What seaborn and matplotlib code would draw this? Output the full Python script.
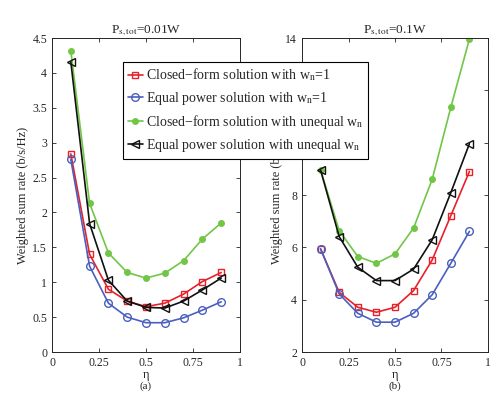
import numpy as np
import pandas as pd
import matplotlib
matplotlib.use("Agg")
import matplotlib.pyplot as plt
import seaborn as sns

# eta values shared by both panels
eta = [0.1, 0.2, 0.3, 0.4, 0.5, 0.6, 0.7, 0.8, 0.9]

# panel (a): P_s,tot = 0.01W
a_closed_w1 = [2.84, 1.40, 0.90, 0.73, 0.65, 0.70, 0.83, 1.01, 1.14]
a_equal_w1 = [2.76, 1.23, 0.70, 0.50, 0.42, 0.42, 0.49, 0.60, 0.72]
a_closed_uneq = [4.32, 2.13, 1.42, 1.14, 1.06, 1.13, 1.31, 1.62, 1.85]
a_equal_uneq = [4.16, 1.84, 1.03, 0.73, 0.64, 0.63, 0.73, 0.89, 1.06]

# panel (b): P_s,tot = 0.1W
b_closed_w1 = [5.94, 4.28, 3.71, 3.52, 3.71, 4.35, 5.52, 7.21, 8.90]
b_equal_w1 = [5.94, 4.22, 3.48, 3.14, 3.14, 3.48, 4.19, 5.39, 6.61]
b_closed_uneq = [8.96, 6.64, 5.65, 5.39, 5.75, 6.74, 8.60, 11.35, 13.96]
b_equal_uneq = [8.95, 6.41, 5.24, 4.73, 4.73, 5.17, 6.29, 8.09, 9.96]

labels = [
    "Closed\u2212form solution with w$_{\\rm n}$=1",
    "Equal power solution with w$_{\\rm n}$=1",
    "Closed\u2212form solution with unequal w$_{\\rm n}$",
    "Equal power solution with unequal w$_{\\rm n}$",
]

sns.set_style("ticks")
plt.rcParams["font.family"] = ["Liberation Serif", "DejaVu Serif"]
plt.rcParams["mathtext.fontset"] = "stix"
plt.rcParams["xtick.direction"] = "in"
plt.rcParams["ytick.direction"] = "in"
plt.rcParams["xtick.top"] = True
plt.rcParams["ytick.right"] = True

colors = ["#e8202a", "#4a5fc0", "#72c646", "#111111"]
markers = ["s", "o", "o", "<"]
mfcs = ["none", "none", "#72c646", "none"]
msizes = [5, 5.5, 4, 5.5]

fig = plt.figure(figsize=(5.02, 4.04), dpi=100)
ax_a = fig.add_axes([0.1036, 0.1287, 0.3745, 0.777])
ax_b = fig.add_axes([0.6016, 0.1287, 0.3705, 0.777])

panels = [
    (ax_a, [a_closed_w1, a_equal_w1, a_closed_uneq, a_equal_uneq]),
    (ax_b, [b_closed_w1, b_equal_w1, b_closed_uneq, b_equal_uneq]),
]

handles = []
for ax, series in panels:
    for i, vals in enumerate(series):
        df = pd.DataFrame({"eta": eta, "rate": vals})
        sns.lineplot(data=df, x="eta", y="rate", ax=ax, color=colors[i],
                     marker=markers[i], markerfacecolor=mfcs[i],
                     markeredgecolor=colors[i], markersize=msizes[i],
                     markeredgewidth=1.0, linewidth=1.2, label=labels[i],
                     legend=False)
    if ax is ax_a:
        handles = ax.get_lines()[:4]

for ax in (ax_a, ax_b):
    ax.set_xlim(0, 1)
    ax.set_xticks([0, 0.25, 0.5, 0.75, 1])
    ax.set_xticklabels(["0", "0.25", "0.5", "0.75", "1"])
    ax.set_xlabel("\u03b7", fontsize=9, labelpad=0)
    ax.set_ylabel("Weighted sum rate (b/s/Hz)", fontsize=9, labelpad=2)
    ax.tick_params(labelsize=8.5, length=3, width=0.6)
    for s in ax.spines.values():
        s.set_linewidth(0.7)

ax_a.set_ylim(0, 4.5)
ax_a.set_yticks(np.arange(0, 4.51, 0.5))
ax_a.set_yticklabels(["0", "0.5", "1", "1.5", "2", "2.5", "3", "3.5", "4", "4.5"])
ax_b.set_ylim(2, 14)
ax_b.set_yticks([2, 4, 6, 8, 10, 12, 14])
# 10 and 12 sit under the legend box in the original
ax_b.set_yticklabels(["2", "4", "6", "8", "", "", "14"])

ax_a.set_title("P$_{\\rm s,tot}$=0.01W", fontsize=9.5, pad=4)
ax_b.set_title("P$_{\\rm s,tot}$=0.1W", fontsize=9.5, pad=4)

fig.text(0.2908, 0.045, "(a)", ha="center", va="center", fontsize=8)
fig.text(0.7868, 0.045, "(b)", ha="center", va="center", fontsize=8)

leg = fig.legend(handles, labels, loc="upper left",
                 bbox_to_anchor=(0.245, 0.847), fontsize=10,
                 frameon=True, fancybox=False, framealpha=1,
                 edgecolor="black", handlelength=1.1, handletextpad=0.2,
                 borderpad=0.35, labelspacing=0.45, borderaxespad=0)
leg.get_frame().set_linewidth(0.8)
leg.set_zorder(10)

fig.savefig("out.png", dpi=100)
